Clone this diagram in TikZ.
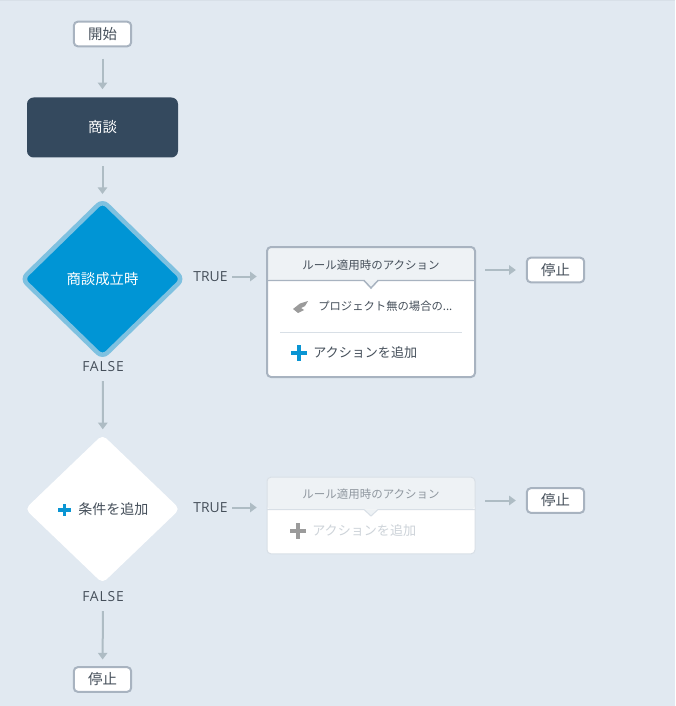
\documentclass[tikz,border=0pt]{standalone}
\usepackage{fontspec}
\setmainfont{Noto Sans CJK JP}
\newfontfamily\latinfont{Open Sans}
\newfontfamily\widelatin{Open Sans}[LetterSpace=6]
\usetikzlibrary{shapes.geometric,arrows.meta}
\definecolor{pagebg}{HTML}{E1E9F1}
\definecolor{topline}{HTML}{D8E0E8}
\definecolor{edgegray}{HTML}{AEBCC4}
\definecolor{boxline}{HTML}{A8B3C0}
\definecolor{paleline}{HTML}{D8DFE6}
\definecolor{headfill}{HTML}{EEF2F5}
\definecolor{dealfill}{HTML}{34495E}
\definecolor{condfill}{HTML}{0095D5}
\definecolor{condline}{HTML}{7FC1E0}
\definecolor{plusblue}{HTML}{0A95D3}
\definecolor{plusgray}{HTML}{9B9B9B}
\definecolor{labeltext}{HTML}{454F5A}
\definecolor{fadetext}{HTML}{8F979F}
\definecolor{addfade}{HTML}{CDD3D9}
\tikzset{
    stopbox/.style={draw=boxline, line width=1.5pt, fill=white, rounded corners=3pt, minimum width=43pt, minimum height=18.5pt, inner sep=0pt, text=labeltext, font=\fontsize{10.8}{12}\selectfont},
    dealbox/.style={fill=dealfill, rounded corners=5pt, minimum width=113.25pt, minimum height=45pt, inner sep=0pt, text=white, font=\fontsize{10.8}{12}\selectfont},
    conddiamond/.style={diamond, draw=condline, line width=3.4pt, fill=condfill, rounded corners=5pt, minimum width=122pt, minimum height=119pt, inner sep=0pt, text=white, font=\fontsize{10.8}{12}\selectfont},
    adddiamond/.style={diamond, fill=white, rounded corners=4pt, minimum width=116.25pt, minimum height=111.5pt, inner sep=0pt},
    cardbody/.style={fill=white, minimum width=156pt, rounded corners=3pt, inner sep=0pt},
    cardframe/.style={draw=boxline, line width=1.5pt, minimum width=156pt, rounded corners=3pt, inner sep=0pt},
    palecard/.style={draw=paleline, line width=0.75pt, minimum width=156pt, rounded corners=3pt, inner sep=0pt},
    headtext/.style={font=\fontsize{8.6}{10}\selectfont, text=labeltext, inner sep=0pt},
    itemtext/.style={anchor=west, font=\fontsize{8.5}{10}\selectfont, text=labeltext, inner sep=0pt},
    addtext/.style={anchor=west, font=\fontsize{9.8}{12}\selectfont, text=labeltext, inner sep=0pt},
    branchtext/.style={font=\latinfont\fontsize{10.4}{12}\selectfont, text=labeltext, inner sep=0pt},
    falsetext/.style={font=\widelatin\fontsize{10.4}{12}\selectfont, text=labeltext, inner sep=0pt},
    flow/.style={draw=edgegray, line width=1.5pt, -{Triangle[length=5pt,width=7pt]}},
    plusicon/.pic={
        \fill[#1] (-8,-2.3) rectangle (8,2.3);
        \fill[#1] (-2.3,-8) rectangle (2.3,8);
    }
}
\begin{document}
\begin{tikzpicture}[x=0.75pt,y=-0.75pt]
    \useasboundingbox (0,0) rectangle (675,706);
    \fill[pagebg] (0,0) rectangle (675,706);
    \fill[topline] (0,0) rectangle (675,1.5);

    % left column
    \node[stopbox] (start) at (102.5,34) {開始};
    \node[dealbox] (deal) at (102.5,127.5) {商談};
    \node[conddiamond] (cond) at (102.5,279) {商談成立時};
    \node[falsetext] (falseA) at (103,367) {FALSE};
    \node[adddiamond] (addcond) at (102.5,509) {};
    \node[falsetext] (falseB) at (103,597) {FALSE};
    \node[stopbox] (stopC) at (102.5,679.5) {停止};
    \pic at (64.5,510) {plusicon={plusblue,scale=0.8}};
    \node[addtext, font=\fontsize{10.5}{12}\selectfont] (addcondtext) at (78,509) {条件を追加};

    % first row
    \node[branchtext] (trueA) at (210.5,276.5) {TRUE};
    \node[cardbody, minimum height=97.5pt] (cardA) at (371,312) {};
    \fill[headfill, rounded corners=3pt] (cardA.north west) -- (cardA.north east) -- (475,280.5) -- (267,280.5) -- cycle;
    \draw[boxline, line width=1.1pt, fill=headfill] (267,280.5) -- (364,280.5) -- (371,288) -- (378,280.5) -- (475,280.5);
    \node[cardframe, minimum height=97.5pt] (frameA) at (cardA) {};
    \node[headtext] (headA) at (371,265) {ルール適用時のアクション};
    \fill[plusgray] (293,309) -- (300,303.5) -- (308,301) -- (305,306) -- (301,308) -- (304,310) -- (298,313) -- cycle;
    \node[itemtext] (itemA) at (318,306) {プロジェクト無の場合の...};
    \draw[paleline, line width=0.75pt] (280,332) -- (462,332);
    \pic at (299,353) {plusicon=plusblue};
    \node[addtext] (addA) at (313,352.5) {アクションを追加};
    \node[stopbox] (stopA) at (555.5,270) {停止};

    % second row
    \node[branchtext] (trueB) at (210.5,507.5) {TRUE};
    \node[cardbody, minimum height=57.5pt] (cardB) at (371,515.5) {};
    \fill[headfill, rounded corners=3pt] (cardB.north west) -- (cardB.north east) -- (475,509.5) -- (267,509.5) -- cycle;
    \draw[paleline, line width=0.75pt, fill=headfill] (267,509.5) -- (364,509.5) -- (371,516) -- (378,509.5) -- (475,509.5);
    \node[palecard, minimum height=57.5pt] (frameB) at (cardB) {};
    \node[headtext, text=fadetext] (headB) at (371,494) {ルール適用時のアクション};
    \pic at (298,531) {plusicon=plusgray};
    \node[addtext, text=addfade] (addB) at (312,531) {アクションを追加};
    \node[stopbox] (stopB) at (555.5,500.5) {停止};

    % connectors
    \draw[flow, shorten <=8.5pt, shorten >=6pt] (start) -- (deal);
    \draw[flow, shorten <=6.5pt, shorten >=2.5pt] (deal) -- (cond);
    \draw[flow, shorten <=6.5pt, shorten >=4pt] (falseA) -- (addcond);
    \draw[flow, shorten <=6.5pt, shorten >=5pt] (falseB) -- (stopC);
    \draw[flow, shorten <=3.5pt, shorten >=7.5pt] (trueA) -- (trueA -| cardA.west);
    \draw[flow, shorten <=3.5pt, shorten >=7.5pt] (trueB) -- (trueB -| cardB.west);
    \draw[flow, shorten <=7.5pt, shorten >=7.5pt] (stopA -| cardA.east) -- (stopA);
    \draw[flow, shorten <=7.5pt, shorten >=7.5pt] (stopB -| cardB.east) -- (stopB);
\end{tikzpicture}
\end{document}
